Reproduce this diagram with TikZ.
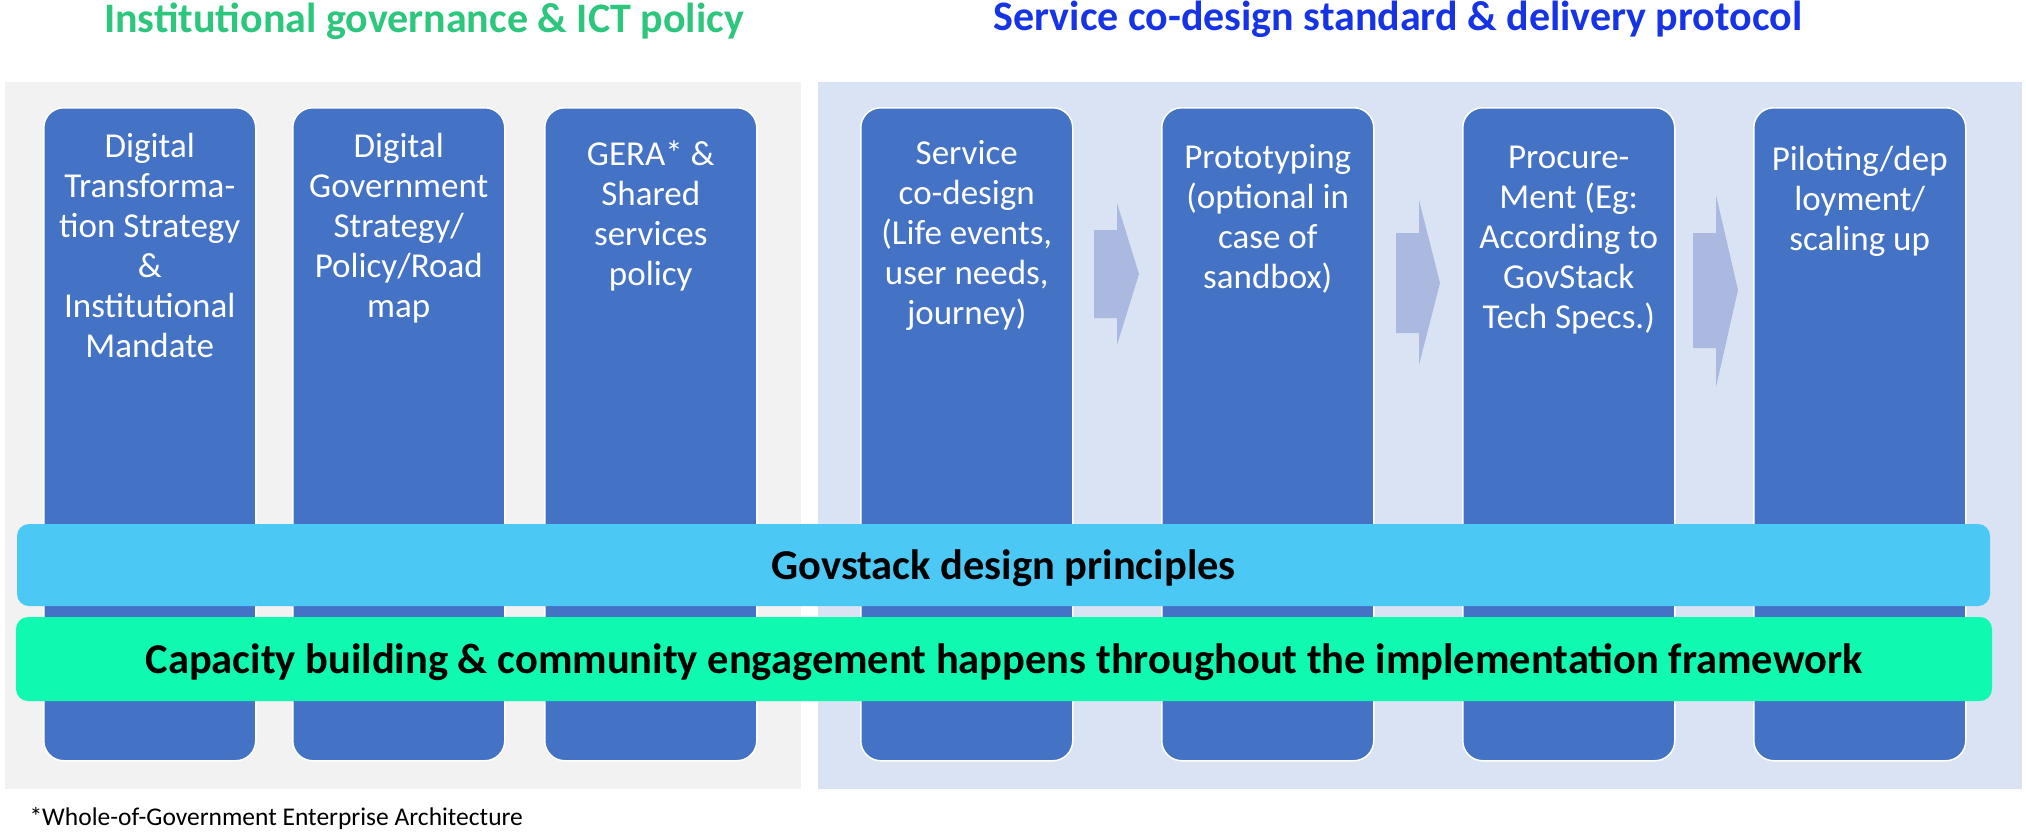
\documentclass[tikz,border=0pt]{standalone}
\usepackage{fontspec}
\setmainfont{Carlito}

\definecolor{panelgray}{HTML}{F2F2F2}
\definecolor{panelblue}{HTML}{DAE3F3}
\definecolor{pillarblue}{HTML}{4472C4}
\definecolor{arrowblue}{HTML}{ABB9E0}
\definecolor{bandblue}{HTML}{4CC8F4}
\definecolor{bandgreen}{HTML}{10F9B0}
\definecolor{titlegreen}{HTML}{2DC67D}
\definecolor{titleblue}{HTML}{1634E6}

\newcommand{\pilltext}[2]{\parbox[c][653pt][t]{204pt}{\vspace*{#1pt}\centering #2}}

\begin{document}
\begin{tikzpicture}[x=1pt,y=-1pt,
    pillar/.style={draw=white,line width=1.5pt,fill=pillarblue,rounded corners=20pt,
      inner xsep=4pt,inner ysep=0pt,anchor=north west,text=white,
      font=\fontsize{35}{40}\selectfont},
    band/.style={rounded corners=12pt,inner sep=0pt,text depth=0pt,
      font=\bfseries\fontsize{42.5}{46}\selectfont},
    heading/.style={anchor=base,font=\bfseries\fontsize{42}{48}\selectfont},
    flowarrow/.style={fill=arrowblue}]
       \useasboundingbox (0,0) rectangle (2026,838);
       % the two panels
       \fill[panelgray] (5,82) rectangle (801,789);
       \fill[panelblue] (818,82) rectangle (2022,789);
       \node[heading,text=titlegreen] (govtitle) at (424,32) {Institutional governance \& ICT policy};
       \node[heading,text=titleblue] (servtitle) at (1398,30) {Service co-design standard \& delivery protocol};
       % pillars
       \node[pillar] (dts) at (43,107) {\pilltext{25}{Digital\\ Transforma-\\ tion Strategy\\ \&\\ Institutional\\ Mandate}};
       \node[pillar] (dgs) at (292,107) {\pilltext{25}{Digital\\ Government\\ Strategy/\\ Policy/Road\\ map}};
       \node[pillar] (gera) at (544,107) {\pilltext{33}{GERA* \&\\ Shared\\ services\\ policy}};
       \node[pillar] (codesign) at (860,107) {\pilltext{33}{Service\\ co-design\\ (Life events,\\ user needs,\\ journey)}};
       \node[pillar] (proto) at (1161,107) {\pilltext{37}{Prototyping\\ (optional in\\ case of\\ sandbox)}};
       \node[pillar] (procure) at (1462,107) {\pilltext{38}{Procure-\\ Ment (Eg:\\ According to\\ GovStack\\ Tech Specs.)}};
       \node[pillar] (pilot) at (1753,107) {\pilltext{38}{Piloting/dep\\ loyment/\\ scaling up}};
       % flow arrows between the steps
       \fill[flowarrow] (1094,230) -- (1117,230) -- (1117,203) -- (1139,274) -- (1117,345) -- (1117,318) -- (1094,318) -- cycle;
       \fill[flowarrow] (1396,233) -- (1419,233) -- (1419,200) -- (1440,283) -- (1419,365) -- (1419,333) -- (1396,333) -- cycle;
       \fill[flowarrow] (1693,233) -- (1716,233) -- (1716,195) -- (1738,290) -- (1716,387) -- (1716,348) -- (1693,348) -- cycle;
       % cross-cutting bands
       \node[band,fill=bandblue,minimum width=1973pt,minimum height=82pt,text height=29pt] (principles) at (1003.5,565) {Govstack design principles};
       \node[band,fill=bandgreen,minimum width=1976pt,minimum height=84pt,text height=29pt] (capacity) at (1004,659) {Capacity building \& community engagement happens throughout the implementation framework};
       \node[anchor=base west,font=\fontsize{25.5}{28}\selectfont] (footnote) at (26,825) {*Whole-of-Government Enterprise Architecture};
      \end{tikzpicture}
\end{document}
